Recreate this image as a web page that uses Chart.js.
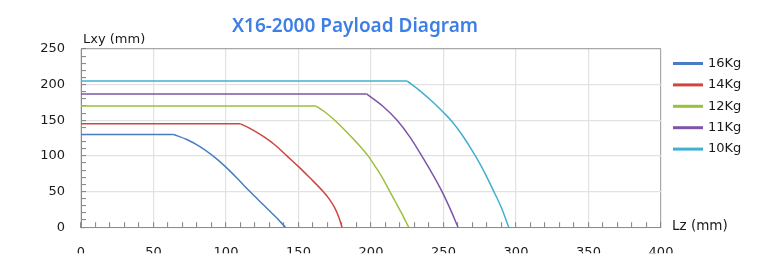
<!DOCTYPE html>
<html>
<head>
<meta charset="utf-8">
<script src="https://cdn.jsdelivr.net/npm/chart.js@4/dist/chart.umd.min.js"></script>
<style>
  html, body { margin: 0; padding: 0; background: #fff; }
  #wrap { width: 764px; height: 256px; }
</style>
</head>
<body>
<div id="wrap"><canvas id="payloadChart" width="764" height="256"></canvas></div>
<script>
// values (Lz, Lxy in mm)
const loadLabels = ['16Kg', '14Kg', '12Kg', '11Kg', '10Kg'];
const lineColors = ['#4a7cc4', '#d0463f', '#9bc03b', '#7d55a8', '#41b0d0'];

const lz16 = [0, 64, 73, 82, 91, 99, 108, 116.5, 125, 133, 141];
const lxy16 = [130, 130, 123, 113, 100, 86, 68, 50, 33, 17, 0];
const lz14 = [0, 110, 118, 126, 134, 142, 150, 158, 167, 171, 175, 178, 180];
const lxy14 = [145, 145, 137, 127, 115, 100, 85, 69, 50, 40, 27, 13, 0];
const lz12 = [0, 162, 168, 175, 182, 190, 198, 203, 208, 213, 217, 221, 224, 226];
const lxy12 = [170, 170, 162, 150, 136, 119, 100, 85, 69, 50, 35, 20, 8, 0];
const lz11 = [0, 197, 208, 218, 227, 235, 242, 249, 255, 260];
const lxy11 = [187, 187, 170, 150, 126, 100, 76, 50, 24, 0];
const lz10 = [0, 225, 234, 243, 250, 256, 263, 272, 278, 284, 290, 295];
const lxy10 = [205, 205, 191, 175, 161, 148, 129, 100, 78, 53, 27, 0];

const lzSeries = [lz16, lz14, lz12, lz11, lz10];
const lxySeries = [lxy16, lxy14, lxy12, lxy11, lxy10];

const xMax = 400, yMax = 250, minorStep = 10, majorStep = 50;

function toPoints(xs, ys) {
    return xs.map((x, i) => ({x: x, y: ys[i]}));
}

// each curve = flat part (straight) + falling arc (smoothed), same colour
const datasets = [];
loadLabels.forEach((name, i) => {
    const pts = toPoints(lzSeries[i], lxySeries[i]);
    const style = {
        borderColor: lineColors[i],
        backgroundColor: lineColors[i],
        borderWidth: 1.5,
        pointRadius: 0,
        showLine: true
    };
    datasets.push(Object.assign({label: name, data: pts.slice(0, 2), tension: 0}, style));
    datasets.push(Object.assign({label: name + ' arc', data: pts.slice(1), cubicInterpolationMode: 'monotone'}, style));
});

function gridColor(ctx, last) {
    if (!ctx.tick) return 'rgba(0,0,0,0)';
    const v = ctx.tick.value;
    if (v === last) return '#a8a8a8';
    return v % majorStep === 0 ? '#e2e2e2' : 'rgba(0,0,0,0)';
}

// title, axis names and legend drawn round the plot
const decorations = {
    id: 'decorations',
    afterDraw(chart) {
        const ctx = chart.ctx;
        const area = chart.chartArea;
        ctx.save();
        ctx.fillStyle = '#3d7fe6';
        ctx.font = '600 19px "Noto Sans"';
        ctx.textAlign = 'center';
        ctx.textBaseline = 'alphabetic';
        ctx.fillText('X16-2000 Payload Diagram', 355, 32);

        ctx.fillStyle = '#1a1a1a';
        ctx.font = '13px "DejaVu Sans"';
        ctx.textAlign = 'left';
        ctx.fillText('Lxy (mm)', area.left + 2, 43);
        ctx.textBaseline = 'middle';
        ctx.font = '13.5px "DejaVu Sans"';
        ctx.fillText('Lz (mm)', area.right + 11, area.bottom - 1);

        ctx.font = '13px "DejaVu Sans"';
        loadLabels.forEach((name, i) => {
            const y = 63.5 + i * 21.4;
            ctx.strokeStyle = lineColors[i];
            ctx.lineWidth = 3;
            ctx.beginPath();
            ctx.moveTo(area.right + 12, y);
            ctx.lineTo(area.right + 42, y);
            ctx.stroke();
            ctx.fillStyle = '#1a1a1a';
            ctx.fillText(name, area.right + 47, y);
        });
        ctx.restore();
    }
};

const tickFont = {family: 'DejaVu Sans', size: 13};

new Chart(document.getElementById('payloadChart').getContext('2d'), {
    type: 'scatter',
    data: {datasets: datasets},
    options: {
        responsive: false,
        animation: false,
        layout: {padding: {left: 0, top: 49, right: 103, bottom: 0}},
        plugins: {
            legend: {display: false},
            title: {display: false},
            tooltip: {enabled: false}
        },
        scales: {
            x: {
                type: 'linear',
                min: 0,
                max: xMax,
                afterFit(scale) { scale.height = 26; },
                border: {color: '#8c8c8c', width: 1},
                grid: {
                    color: (ctx) => gridColor(ctx, xMax),
                    lineWidth: 1.2,
                    tickColor: '#808080',
                    tickLength: -5,
                    tickWidth: 1
                },
                ticks: {
                    stepSize: minorStep,
                    autoSkip: false,
                    maxRotation: 0,
                    padding: 23,
                    color: '#1a1a1a',
                    font: tickFont,
                    callback: (v) => v % majorStep === 0 ? v : ''
                }
            },
            y: {
                type: 'linear',
                min: 0,
                max: yMax,
                afterFit(scale) { scale.width = 81; },
                border: {color: '#8c8c8c', width: 1},
                grid: {
                    color: (ctx) => gridColor(ctx, yMax),
                    lineWidth: 1.2,
                    tickColor: '#808080',
                    tickLength: -5,
                    tickWidth: 1
                },
                ticks: {
                    stepSize: minorStep,
                    autoSkip: false,
                    padding: 21,
                    color: '#1a1a1a',
                    font: tickFont,
                    callback: (v) => v % majorStep === 0 ? v : ''
                }
            }
        }
    },
    plugins: [decorations]
});
</script>
</body>
</html>
